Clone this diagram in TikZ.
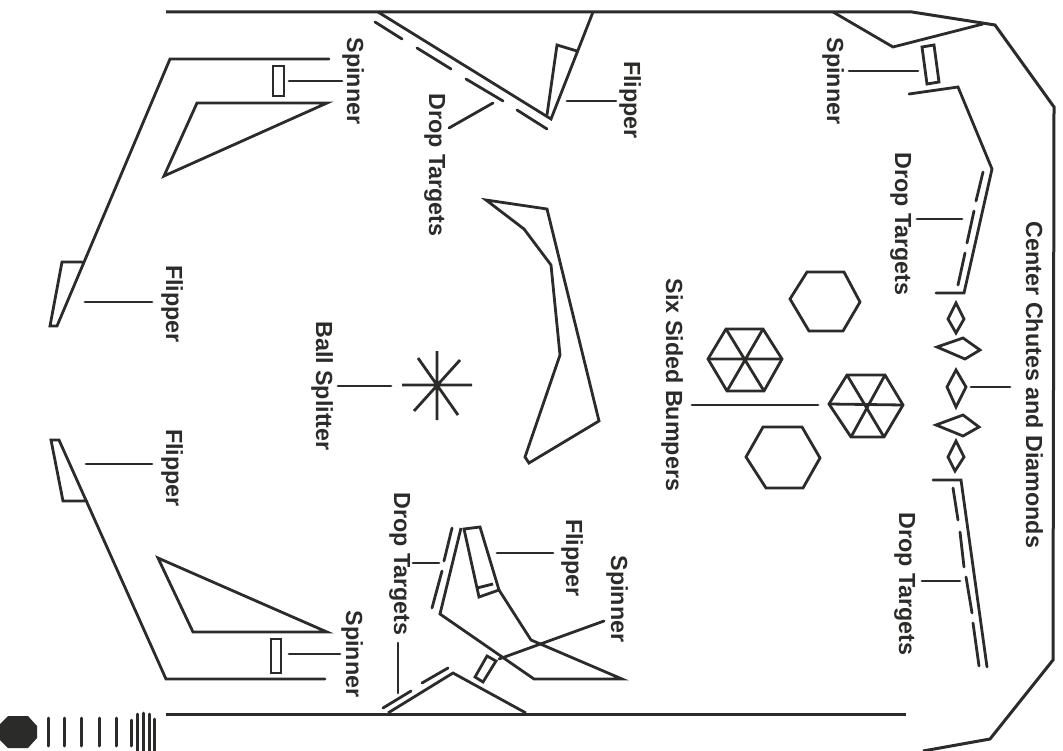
\documentclass[tikz,border=0pt]{standalone}
\usepackage{fontspec}
\setmainfont{Liberation Sans}
\definecolor{ink}{HTML}{2B2B29}
\tikzset{
  line/.style={draw=ink,line width=2.8pt,line join=miter,line cap=butt},
  leader/.style={draw=ink,line width=2.8pt,line cap=round},
  wall/.style={draw=ink,line width=3pt,line join=miter},
  dropt/.style={draw=ink,line width=2.8pt,line cap=round},
  lab/.style={rotate=-90,inner sep=0pt,text=ink,font=\fontsize{23.3}{27}\selectfont\bfseries,text height=16.7pt,text depth=5pt,anchor=center},
  bar/.style={draw=ink,line width=3pt,line cap=round},
}
\begin{document}
\begin{tikzpicture}[x=1pt,y=-1pt]
\useasboundingbox (0,0) rectangle (1063,751);
% outer walls
\draw[wall] (166,12) -- (912,12) -- (995,25) -- (1054,107) -- (1053,660) -- (990,739) -- (923,751);
\draw[wall] (166,714) -- (906,714);
% top-centre ramp + flipper
\draw[line] (378,12) -- (551,119) -- (593,12);
\draw[line] (547,115) -- (557,45) -- (577,51);
% top-right wedge
\draw[line] (833,12) -- (893,47) -- (983,24);
\draw[line] (922,47) -- (934,45) -- (939,82) -- (927,84) -- cycle;
% right upper rail
\draw[line,line cap=round] (909,94) -- (958,87) -- (992,169) -- (964,293) -- (936,293);
\draw[dropt] (983,172) -- (976,201);
\draw[dropt] (974,211) -- (967,243);
\draw[dropt] (965,253) -- (958,285);
% right lower rail
\draw[line,line cap=round] (933,480) -- (961,480) -- (987,667);
\draw[dropt] (953,488) -- (958,520);
\draw[dropt] (960,532) -- (964,567);
\draw[dropt] (966,577) -- (972,613);
\draw[dropt] (973,623) -- (979,666);
% diamonds
\draw[line] (956,303) -- (964,319) -- (956,333) -- (948,319) -- cycle;
\draw[line] (963,338) -- (980,350) -- (965,359) -- (937,347) -- cycle;
\draw[line] (956,370) -- (966,387) -- (956,407) -- (947,387) -- cycle;
\draw[line] (963,415) -- (979,427) -- (963,436) -- (936,425) -- cycle;
\draw[line] (956,441) -- (964,457) -- (955,471) -- (948,457) -- cycle;
% hexagons
\draw[line] (807,272) -- (844,272) -- (860,302) -- (843,331) -- (809,331) -- (790,299) -- cycle;
\draw[line] (763,427) -- (802,427) -- (820,458) -- (803,488) -- (766,488) -- (746,457) -- cycle;
\draw[line] (726,329) -- (763,329) -- (782,359) -- (764,391) -- (727,391) -- (708,359) -- cycle;
\draw[line] (726,329) -- (764,391) (763,329) -- (727,391) (708,359) -- (782,359);
\draw[line] (847,375) -- (885,375) -- (903,405) -- (884,437) -- (851,437) -- (829,404) -- cycle;
\draw[line] (847,375) -- (884,437) (885,375) -- (851,437) (829,404) -- (903,405);
% centre polygon
\draw[line] (486,200) -- (547,209) -- (599,421) -- (529,463) -- (525,457) -- (560,355) -- (551,265) -- (524,229) -- cycle;
% ball splitter
\draw[line] (402,385) -- (472,385) (437,351) -- (437,420) (418,358) -- (458,415) (460,360) -- (414,411);
% top left
\draw[line,line cap=round] (329,59) -- (170,59) -- (57,326) -- (50,326) -- (62,262) -- (82,262);
\draw[line] (327,103) -- (197,103) -- (164,176) -- cycle;
\draw[line] (273,66) rectangle (284,96);
% bottom left
\draw[line,line cap=round] (325,679) -- (166,679) -- (59,440) -- (51,440) -- (63,501) -- (87,501);
\draw[line] (158,558) -- (327,632) -- (193,632) -- cycle;
\draw[line] (271,639) rectangle (281,673);
% top drop targets
\draw[dropt] (375,22) -- (402,39);
\draw[dropt] (417,48) -- (451,69);
\draw[dropt] (466,79) -- (503,101);
\draw[dropt] (517,110) -- (547,129);
% bottom-centre structure
\draw[line] (499,590) -- (531,640) -- (622,679) -- (534,679) -- (440,614) -- (461,528);
\draw[line] (464,529) -- (480,527) -- (499,590) -- (479,597) -- cycle;
\draw[line] (477,588) -- (493,584);
\draw[dropt] (452,528) -- (444,561);
\draw[dropt] (442,571) -- (432,608);
\draw[line] (487,656) -- (496,661) -- (483,682) -- (475,677) -- cycle;
\draw[line] (388,713) -- (453,673) -- (526,713);
\draw[dropt] (383,708) -- (411,691);
\draw[dropt] (422,683) -- (448,668);
% leaders
\foreach \i/\ax/\ay/\bx/\by in {
  a/289/81/342/81, b/449/128/493/103, c/567/101/616/101, d/849/71/918/71,
  e/917/219/962/219, f/971/387/1010/387, g/692/405/818/405, h/922/581/960/581,
  j/338/386/391/386, k/85/302/152/302, l/86/464/152/464, m/289/654/340/654,
  n/398/643/398/693, o/413/563/439/563, p/497/553/553/553, q/499/659/604/621}{
  \coordinate (\i1) at (\ax,\ay);
  \coordinate (\i2) at (\bx,\by);
  \draw[leader] (\i1) -- (\i2);
}
% footer marks
\fill[ink] (8,716) -- (28,716) -- (37,726) -- (37,738) -- (28,748) -- (8,748) -- (0,740) -- (0,724) -- cycle;
\foreach \x/\a/\b in {48/718/746,64/718/746,81/718/746,99/718/746,116/718/746,131/720/746,137/714/752,143/713/752,149/714/752,154/719/752}
  \draw[bar] (\x,\a) -- (\x,\b);
% labels
\node[lab] (t1) at (353,81) {Spinner};
\node[lab] (t2) at (435,165) {Drop Targets};
\node[lab] (t3) at (630,100) {Flipper};
\node[lab] (t4) at (833,81) {Spinner};
\node[lab] (t5) at (901,224) {Drop Targets};
\node[lab] (t6) at (1032,385) {Center Chutes and Diamonds};
\node[lab] (t7) at (672,385) {Six Sided Bumpers};
\node[lab] (t8) at (905,584) {Drop Targets};
\node[lab] (t9) at (617,599) {Spinner};
\node[lab] (t10) at (572,558) {Flipper};
\node[lab] (t11) at (400,564) {Drop Targets};
\node[lab] (t12) at (352,654) {Spinner};
\node[lab] (t13) at (172,304) {Flipper};
\node[lab] (t14) at (172,468) {Flipper};
\node[lab] (t15) at (322,386) {Ball Splitter};
\end{tikzpicture}
\end{document}
